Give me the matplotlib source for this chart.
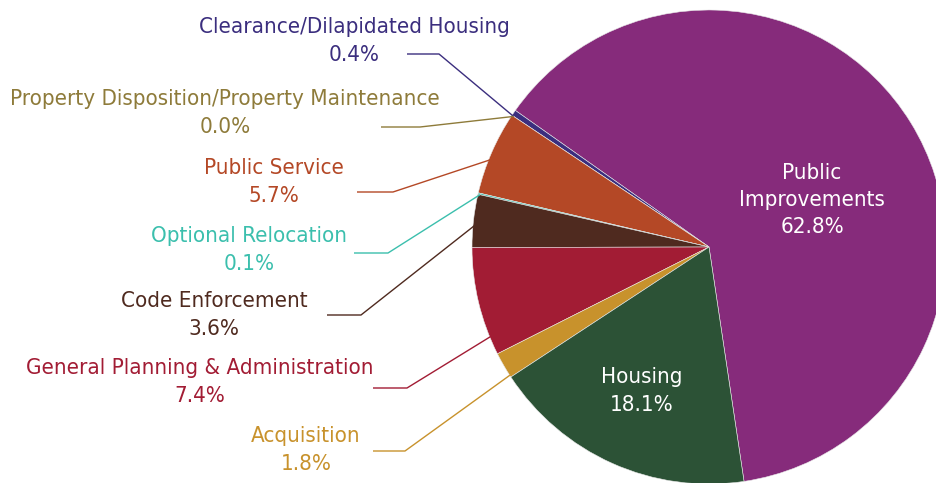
import matplotlib
matplotlib.use('Agg')
import matplotlib.pyplot as plt
import numpy as np

plt.rcParams['font.family'] = ['DejaVu Sans']
plt.rcParams['font.stretch'] = 'condensed'

# data, counterclockwise from the Public Improvements slice
categories = ['Public Improvements', 'Clearance/Dilapidated Housing',
              'Property Disposition/Property Maintenance', 'Public Service',
              'Optional Relocation', 'Code Enforcement',
              'General Planning & Administration', 'Acquisition', 'Housing']
shares = [62.8, 0.4, 0.0, 5.7, 0.1, 3.6, 7.4, 1.8, 18.1]
colors = ['#862B7B', '#3B2E7E', '#8E7B3A', '#B44826', '#3BBFAD',
          '#4F2A1F', '#A21C34', '#C8922C', '#2C5236']

W, H = 936, 483
cx, cy, R = 709, H - 247, 237
FS = 16
LS = 1.45

fig = plt.figure(figsize=(W / 100, H / 100), dpi=100)
ax = fig.add_axes([0, 0, 1, 1])

wedges, _ = ax.pie(shares, colors=colors, startangle=-81.5, counterclock=True,
                   center=(cx, cy), radius=R,
                   wedgeprops=dict(edgecolor='#e8e8e8', linewidth=0.4))
ax.set_xlim(0, W)
ax.set_ylim(0, H)
ax.set_aspect('equal')
ax.axis('off')

# labels inside the two big slices (x, y in pixels from top)
inside = {0: (812, 200, 'Public\nImprovements'), 8: (642, 391, 'Housing')}
for i, (x, y, name) in inside.items():
    ax.text(x, H - y, f'{name}\n{shares[i]:.1f}%', color='white', fontsize=FS,
            ha='center', va='center', linespacing=LS)

# outside labels: label centre, elbow start/end, fraction along wedge for anchor
outside = {
    1: ((354, 41), (407, 439, 54), 1.0),
    2: ((225, 113), (381, 420, 127), 1.0),
    3: ((274, 182), (357, 393, 192), 0.58),
    4: ((249, 250), (354, 388, 253), 1.0),
    5: ((214, 315), (327, 361, 315), 0.58),
    6: ((200, 382), (373, 407, 388), 0.83),
    7: ((306, 450), (373, 405, 451), 0.92),
}
for i, ((lx, ly), (x0, x1, ey), frac) in outside.items():
    w = wedges[i]
    ang = np.deg2rad(w.theta1 + frac * (w.theta2 - w.theta1))
    ax_, ay_ = cx + (R - 2) * np.cos(ang), cy + (R - 2) * np.sin(ang)
    ax.plot([x0, x1, ax_], [H - ey, H - ey, ay_], color=colors[i], lw=1.0,
            solid_capstyle='butt')
    ax.text(lx, H - ly, f'{categories[i]}\n{shares[i]:.1f}%', color=colors[i],
            fontsize=FS, ha='center', va='center', linespacing=LS)

fig.savefig('out.png', dpi=100)
